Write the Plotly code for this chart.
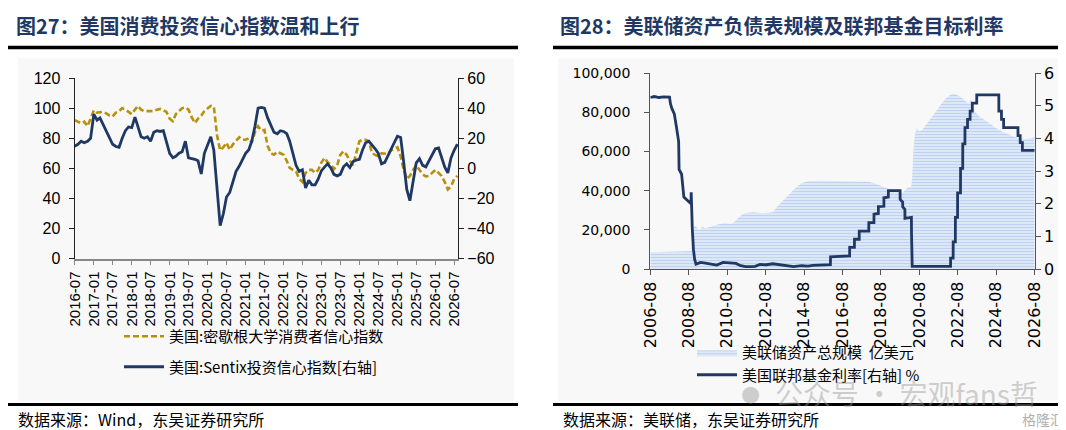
import pandas as pd
import plotly.graph_objects as go

W, H = 1066, 430
def X(px): return px / W
def Y(py): return 1 - py / H

# ---------------- Left chart data (monthly, from 2016-07) ----------------
left_dates = pd.date_range("2016-07-01", periods=122, freq="MS")
michigan = [92, 91, 90, 91, 88, 93, 98.5, 97, 97, 97.5,
            96.5, 95, 94.5, 97, 98, 100, 99, 97.5, 96, 99,
            101.5, 99, 98, 98, 98, 98, 99, 99.5, 98.5, 97.5,
            93, 91.3, 96, 98, 100, 100.5, 99, 94, 90, 93,
            95, 98, 100, 101.5, 101, 82, 72, 74, 77, 72.4,
            76, 78, 80.6, 79, 79, 80, 77, 84, 88, 85,
            85.5, 75, 70, 69, 71, 70, 69, 65, 60.3, 59,
            58, 53, 51, 57, 59, 59, 57, 59, 64, 66.9,
            64, 62.5, 59.5, 62, 69, 71.4, 69, 65, 62, 70,
            78, 79, 79, 78, 70.2, 69, 68, 70, 70, 69.5,
            72, 73, 74, 68, 59.5, 53, 55, 59, 62, 59,
            56, 54.7, 55, 57, 59, 57, 55, 51, 46, 48,
            53, 55]
sentix = [14.7, 16, 18, 17, 18, 20, 36, 32, 33.5, 29,
          24, 20, 16, 14.5, 14, 20, 25, 27.5, 27, 34,
          28, 21, 20, 21, 18, 24, 25, 24.5, 25, 17,
          10, 7, 8, 10, 11, 18, 7, 6.5, 6, 5,
          -3.7, 10, 16, 21, 12, -13, -38, -30, -19, -16,
          -8, -2, 1.5, 6, 10, 12.4, 18, 28, 40, 40.5,
          40, 33.5, 28, 24, 23, 25, 24.5, 23, 18, 10,
          2, -2, -1, -13, -8, -11, -11, -7, -1.5, 1,
          3, 0.3, -4, -5, -4, 1, 3, 0.5, 4.5, 5.5,
          6, 12.4, 17, 18, 15.7, 13, 10, 3, 4, 8,
          12, 17, 21.3, 20.5, 5, -14, -21.5, -8, 3.6, 6.4,
          2, 1, 5, 8, 13, 13.5, 8, 1, -3, 7,
          12, 16]

# ---------------- Right chart data ----------------
bs_dates = ["2006-08-01", "2007-01-01", "2007-08-01", "2008-08-01", "2008-09-17",
            "2008-10-15", "2008-11-05", "2008-12-17", "2009-01-15", "2009-02-15",
            "2009-03-10", "2009-04-15", "2009-06-15", "2009-09-15", "2009-12-15",
            "2010-03-15", "2010-06-15", "2010-10-15", "2010-12-15", "2011-03-15",
            "2011-06-15", "2011-12-15", "2012-06-15", "2012-12-15", "2013-03-15",
            "2013-06-15", "2013-09-15", "2013-12-15", "2014-03-15", "2014-06-15",
            "2014-10-15", "2015-06-15", "2016-06-15", "2017-06-15", "2017-12-15",
            "2018-06-15", "2018-12-15", "2019-06-15", "2019-09-15", "2019-12-15",
            "2020-02-26", "2020-03-18", "2020-04-08", "2020-05-06", "2020-06-10",
            "2020-08-01", "2020-09-15", "2020-12-15", "2021-03-15", "2021-06-15",
            "2021-09-15", "2021-12-15", "2022-03-15", "2022-05-15", "2022-09-15",
            "2022-12-15", "2023-03-01", "2023-03-22", "2023-06-15", "2023-09-15",
            "2023-12-15", "2024-03-15", "2024-06-15", "2024-09-15", "2024-12-15",
            "2025-03-15", "2025-06-15", "2025-09-15", "2025-12-15", "2026-03-15",
            "2026-06-15", "2026-08-01"]
bs_values = [8600, 8700, 8800, 8900, 9200,
             18000, 21500, 22000, 20500, 19800,
             20200, 21500, 20800, 21500, 22300,
             23000, 23300, 23000, 24000, 26500,
             28500, 29000, 28500, 29000, 32000,
             34500, 37000, 40000, 42000, 43800,
             44800, 45000, 44800, 44800, 44500,
             43000, 41000, 39500, 38800, 41300,
             42000, 47000, 61000, 68000, 71800,
             70200, 70800, 74000, 77000, 80500,
             84000, 87000, 89000, 89500, 88000,
             86000, 84000, 86500, 80500, 77800,
             76000, 74300, 72500, 71000, 69800,
             68800, 67700, 66800, 66100, 66300,
             67000, 67300]

ff_dates = ["2006-08-01", "2006-10-15", "2007-01-15", "2007-04-15", "2007-08-01",
            "2007-08-20", "2007-09-18", "2007-10-31", "2007-12-11", "2008-01-22",
            "2008-01-30", "2008-03-18", "2008-04-30", "2008-09-12", "2008-09-16",
            "2008-09-25", "2008-10-08", "2008-10-29", "2008-11-20", "2008-12-16",
            "2009-03-15", "2009-06-15", "2009-09-15", "2010-01-15", "2010-05-15",
            "2010-09-15", "2011-01-15", "2011-04-15", "2011-07-15", "2011-10-15",
            "2012-01-15", "2012-04-15", "2012-08-15", "2012-12-15", "2013-03-15",
            "2013-07-15", "2013-10-15", "2014-01-15", "2014-06-15", "2014-10-15",
            "2015-01-15", "2015-05-15", "2015-09-15", "2015-12-15", "2015-12-17",
            "2016-12-14", "2016-12-15", "2017-03-15", "2017-03-16", "2017-06-14",
            "2017-06-15", "2017-12-13", "2017-12-14", "2018-03-21", "2018-03-22",
            "2018-06-13", "2018-06-14", "2018-09-26", "2018-09-27", "2018-12-19",
            "2018-12-20", "2019-07-31", "2019-08-01", "2019-09-18", "2019-09-19",
            "2019-10-30", "2019-10-31", "2020-03-02", "2020-03-04", "2020-03-16",
            "2020-03-17", "2021-06-15", "2022-03-16", "2022-03-17", "2022-05-04",
            "2022-05-05", "2022-06-15", "2022-06-16", "2022-07-27", "2022-07-28",
            "2022-09-21", "2022-09-22", "2022-11-02", "2022-11-03", "2022-12-14",
            "2022-12-15", "2023-02-01", "2023-02-02", "2023-03-22", "2023-03-23",
            "2023-05-03", "2023-05-04", "2023-07-26", "2023-07-27", "2024-09-18",
            "2024-09-19", "2024-11-07", "2024-11-08", "2024-12-18", "2024-12-19",
            "2025-09-17", "2025-09-18", "2025-10-29", "2025-10-30", "2025-12-10",
            "2025-12-11", "2026-08-01"]
ff_values = [5.25, 5.28, 5.25, 5.27, 5.26,
             5.05, 4.9, 4.75, 4.35, 3.9,
             3.05, 2.9, 2.2, 2.0, 2.35,
             1.7, 1.2, 0.6, 0.3, 0.15,
             0.2, 0.18, 0.15, 0.12, 0.2,
             0.19, 0.17, 0.1, 0.07, 0.07,
             0.08, 0.14, 0.13, 0.16, 0.14,
             0.09, 0.09, 0.07, 0.1, 0.09,
             0.11, 0.12, 0.14, 0.13, 0.37,
             0.4, 0.66, 0.66, 0.91, 0.91,
             1.16, 1.16, 1.42, 1.42, 1.68,
             1.7, 1.91, 1.92, 2.18, 2.2,
             2.4, 2.4, 2.13, 2.05, 1.9,
             1.83, 1.55, 1.58, 1.1, 0.25,
             0.08, 0.08, 0.08, 0.33, 0.33,
             0.83, 0.83, 1.58, 1.58, 2.33,
             2.33, 3.08, 3.08, 3.83, 3.83,
             4.33, 4.33, 4.58, 4.58, 4.83,
             4.83, 5.08, 5.08, 5.33, 5.33,
             4.83, 4.83, 4.58, 4.58, 4.33,
             4.33, 4.08, 4.08, 3.87, 3.87,
             3.63, 3.63]

left_ticks_font = dict(family="Liberation Sans, Arial", size=16, color="#000")
left_x_font = dict(family="Liberation Sans, Arial", size=15, color="#000")
right_y_font = dict(family="DejaVu Sans", size=14, color="#000")
right_big_font = dict(family="DejaVu Sans", size=16, color="#000")
cjk = "Noto Sans CJK SC"
navy = "#1f3864"
gold = "#b8900a"

fig = go.Figure()
fig.add_trace(go.Scatter(x=left_dates, y=michigan, mode="lines",
                         name="美国:密歇根大学消费者信心指数",
                         line=dict(color=gold, width=2.6, dash="6px,3px"),
                         xaxis="x", yaxis="y", legend="legend", legendgroup="a"))
fig.add_trace(go.Scatter(x=left_dates, y=sentix, mode="lines",
                         name="美国:Sentix投资信心指数[右轴]",
                         line=dict(color=navy, width=2.8),
                         xaxis="x", yaxis="y2", legend="legend", legendgroup="b"))
fig.add_trace(go.Scatter(x=bs_dates, y=bs_values, mode="lines", fill="tozeroy",
                         name="美联储资产总规模  亿美元",
                         line=dict(width=0, color="#9dbde8"),
                         fillpattern=dict(shape="-", fgcolor="#97b8e6", bgcolor="#e6eefa",
                                          size=3, solidity=0.5),
                         xaxis="x2", yaxis="y3", legend="legend2", legendgroup="r"))
fig.add_trace(go.Scatter(x=ff_dates, y=ff_values, mode="lines",
                         name="美国联邦基金利率[右轴] %",
                         line=dict(color=navy, width=2.8),
                         xaxis="x2", yaxis="y4", legend="legend2", legendgroup="r"))

common_ax = dict(showgrid=False, zeroline=False, ticks="outside", ticklen=5,
                 showline=True, automargin=False)

fig.update_layout(
    width=W, height=H, margin=dict(l=0, r=0, t=0, b=0, autoexpand=False),
    paper_bgcolor="white", plot_bgcolor="rgba(0,0,0,0)",
    xaxis=dict(domain=[X(66.7), X(450)], anchor="y", type="date",
               range=["2016-07-01", "2026-08-07"], tickmode="linear",
               tick0="2016-07-01", dtick="M6", tickformat="%Y-%m", tickangle=-90,
               linecolor="#888", tickcolor="#888", linewidth=1.5,
               tickfont=left_x_font, **common_ax),
    yaxis=dict(domain=[Y(250.7), Y(70)], anchor="x", range=[0, 120], dtick=20,
               linecolor="#222", tickcolor="#222", linewidth=1.2,
               ticklabelstandoff=5, tickfont=left_ticks_font, **common_ax),
    yaxis2=dict(overlaying="y", side="right", anchor="x", range=[-60, 60], dtick=20,
                linecolor="#222", tickcolor="#222", linewidth=1.2,
                tickfont=left_ticks_font, **common_ax),
    xaxis2=dict(domain=[X(642.3), X(1026.7)], anchor="y3", type="date",
                range=["2006-08-01", "2026-08-01"], tickmode="linear",
                tick0="2006-08-01", dtick="M24", tickformat="%Y-%m", tickangle=-90,
                linecolor="#555", tickcolor="#555", linewidth=1.2,
                tickfont=right_big_font, **common_ax),
    yaxis3=dict(domain=[Y(261), Y(65)], anchor="x2", range=[0, 100000], dtick=20000,
                tickformat=",d", linecolor="#555", tickcolor="#555", linewidth=1.2,
                ticklabelstandoff=11, tickfont=right_y_font, **common_ax),
    yaxis4=dict(overlaying="y3", side="right", anchor="x2", range=[0, 6], dtick=1,
                linecolor="#555", tickcolor="#555", linewidth=1.2,
                tickfont=right_big_font, **common_ax),
    legend=dict(x=X(111), y=Y(312), xanchor="left", yanchor="top",
                bgcolor="rgba(0,0,0,0)", font=dict(family=cjk, size=15, color="#000"),
                tracegroupgap=8, itemwidth=40),
    legend2=dict(x=X(684), y=Y(328), xanchor="left", yanchor="top",
                 bgcolor="rgba(0,0,0,0)", font=dict(family=cjk, size=15, color="#000"),
                 tracegroupgap=0, itemwidth=40),
    showlegend=True,
)

shapes = [
    dict(type="rect", xref="paper", yref="paper", x0=X(10), x1=X(506), y0=Y(393), y1=Y(50),
         fillcolor="#f8f8f8", line=dict(width=0), layer="below"),
    dict(type="rect", xref="paper", yref="paper", x0=X(550), x1=X(1060), y0=Y(393), y1=Y(50),
         fillcolor="#f8f8f8", line=dict(width=0), layer="below"),
    dict(type="line", xref="paper", yref="paper", x0=X(0), x1=X(510), y0=Y(39.5), y1=Y(39.5),
         line=dict(color="#000", width=3.5)),
    dict(type="line", xref="paper", yref="paper", x0=X(545), x1=X(1066), y0=Y(39.5), y1=Y(39.5),
         line=dict(color="#000", width=3.5)),
    dict(type="line", xref="paper", yref="paper", x0=X(0), x1=X(510), y0=Y(396.5), y1=Y(396.5),
         line=dict(color="#000", width=3)),
    dict(type="line", xref="paper", yref="paper", x0=X(545), x1=X(1066), y0=Y(396.5), y1=Y(396.5),
         line=dict(color="#000", width=3)),
]
fig.update_layout(shapes=shapes)

title_font = dict(family=cjk, size=20, color="#1f3864")
src_font = dict(family=cjk, size=16, color="#000")
annotations = [
    dict(text="<b>图27：美国消费投资信心指数温和上行</b>", x=X(6), y=Y(18),
         xref="paper", yref="paper", xanchor="left", yanchor="middle",
         showarrow=False, font=title_font),
    dict(text="<b>图28：美联储资产负债表规模及联邦基金目标利率</b>", x=X(550), y=Y(18),
         xref="paper", yref="paper", xanchor="left", yanchor="middle",
         showarrow=False, font=title_font),
    dict(text="数据来源：Wind，东吴证券研究所", x=X(8), y=Y(411),
         xref="paper", yref="paper", xanchor="left", yanchor="middle",
         showarrow=False, font=src_font),
    dict(text="数据来源：美联储，东吴证券研究所", x=X(553), y=Y(411),
         xref="paper", yref="paper", xanchor="left", yanchor="middle",
         showarrow=False, font=src_font),
    dict(text="公众号 · 宏观fans哲", x=X(765), y=Y(385),
         xref="paper", yref="paper", xanchor="left", yanchor="middle",
         showarrow=False, font=dict(family=cjk, size=28, color="rgba(150,150,150,0.45)")),
    dict(text="●", x=X(742), y=Y(385),
         xref="paper", yref="paper", xanchor="center", yanchor="middle",
         showarrow=False, font=dict(family="DejaVu Sans", size=22, color="rgba(150,150,150,0.45)")),
    dict(text="格隆汇", x=X(1058), y=Y(411),
         xref="paper", yref="paper", xanchor="right", yanchor="middle",
         showarrow=False, font=dict(family=cjk, size=14, color="#b0b0b0")),
]
fig.update_layout(annotations=annotations)

fig.write_html("out.html")
